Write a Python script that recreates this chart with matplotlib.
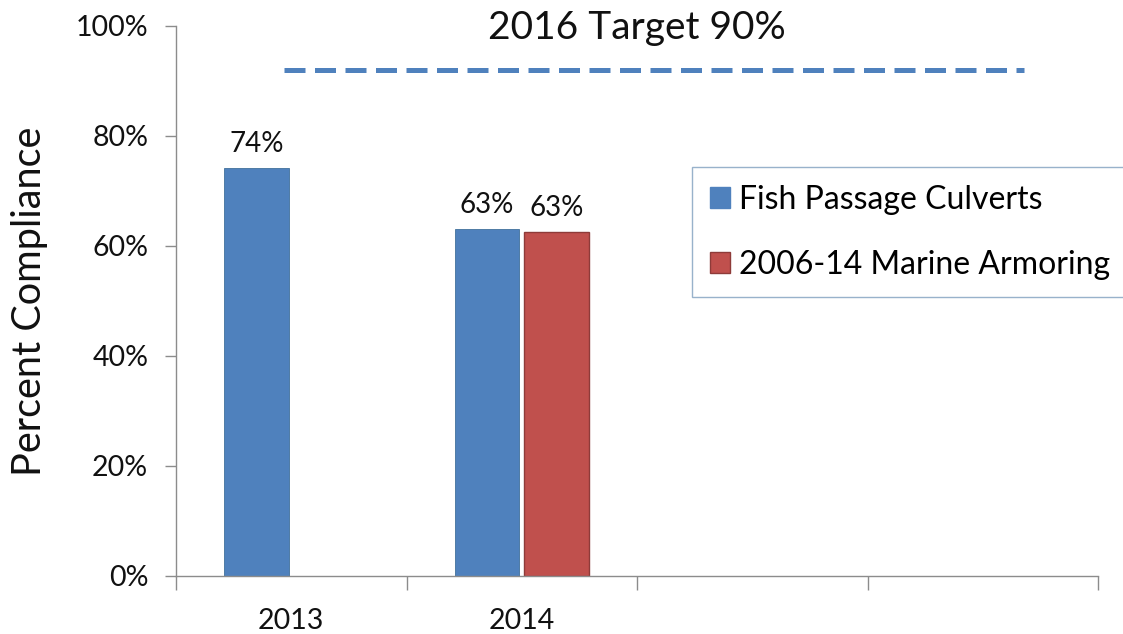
import numpy as np
import matplotlib
matplotlib.use("Agg")
import matplotlib.pyplot as plt
from matplotlib.patches import Patch

plt.rcParams['font.family'] = ['Lato', 'DejaVu Sans']

categories = ["2013", "2014", "", ""]
fish_culverts = [0.741, 0.631, np.nan, np.nan]
marine_armoring = [np.nan, 0.626, np.nan, np.nan]
fish_labels = ["74%", "63%", "", ""]
marine_labels = ["", "63%", "", ""]
target_value = 0.92
target_x = [-0.03, 3.18]
title_text = "2016 Target 90%"
series_names = ["Fish Passage Culverts", "2006-14 Marine Armoring"]

blue = "#4F81BD"
red = "#C0504D"
axis_gray = "#8C8C8C"
txt = "#111111"

fig = plt.figure(figsize=(11.23, 6.34), dpi=100)
ax = fig.add_axes([176/1123, 1-576/634, (1098-176)/1123, (576-26)/634])

x = np.arange(len(categories))
w = 0.28
off = 0.15
ax.bar(x - off, fish_culverts, width=w, color=blue, edgecolor="#41719C", linewidth=0.6)
ax.bar(x + off, marine_armoring, width=w, color=red, edgecolor="#8E3B39", linewidth=1.0)

for xi, v, lab in zip(x - off, fish_culverts, fish_labels):
    if lab:
        ax.text(xi, v + 0.02, lab, ha="center", va="bottom", fontsize=20, color=txt)
for xi, v, lab in zip(x + off, marine_armoring, marine_labels):
    if lab:
        ax.text(xi, v + 0.02, lab, ha="center", va="bottom", fontsize=20, color=txt)

ax.plot(target_x, [target_value, target_value], color=blue, linewidth=3.6,
        linestyle=(0, (4.2, 1.9)), dash_capstyle="butt", solid_capstyle="butt")

ax.set_xlim(-0.5, len(categories) - 0.5)
ax.set_ylim(0, 1.0)
yt = np.arange(0, 1.01, 0.2)
ax.set_yticks(yt)
ax.set_yticklabels([f"{int(round(t*100))}%" for t in yt], fontsize=20.5, color=txt)

maj = np.arange(-0.5, len(categories), 1.0)
ax.set_xticks(maj)
ax.set_xticklabels([""] * len(maj))
ax.set_xticks(x, minor=True)
ax.set_xticklabels(categories, minor=True, fontsize=20.5, color=txt)
ax.tick_params(axis="x", which="major", length=10, width=1, color=axis_gray, direction="out")
ax.tick_params(axis="x", which="minor", length=0, pad=23)
ax.tick_params(axis="y", length=8, width=1, color=axis_gray, direction="out", pad=12)

for s in ["top", "right"]:
    ax.spines[s].set_visible(False)
for s in ["left", "bottom"]:
    ax.spines[s].set_color(axis_gray)
    ax.spines[s].set_linewidth(1.0)

ax.set_ylabel("Percent Compliance", fontsize=28.5, color=txt)
ax.yaxis.set_label_coords(-0.139, 0.5)
ax.text(0.5, (576-39)/550, title_text, transform=ax.transAxes, ha="center",
        va="baseline", fontsize=28, color=txt)

handles = [Patch(facecolor=blue, edgecolor=blue), Patch(facecolor=red, edgecolor="#8E3B39")]
leg = fig.legend(handles, series_names, loc="upper left",
                 bbox_to_anchor=(692/1123, 1-167/634), fontsize=23,
                 frameon=True, fancybox=False, handlelength=0.65, handleheight=0.62,
                 handletextpad=0.28, labelspacing=1.1, borderpad=0.55, borderaxespad=0)
leg.get_frame().set_edgecolor("#7F9FBF")
leg.get_frame().set_linewidth(1.0)

fig.savefig("out.png", dpi=100)
